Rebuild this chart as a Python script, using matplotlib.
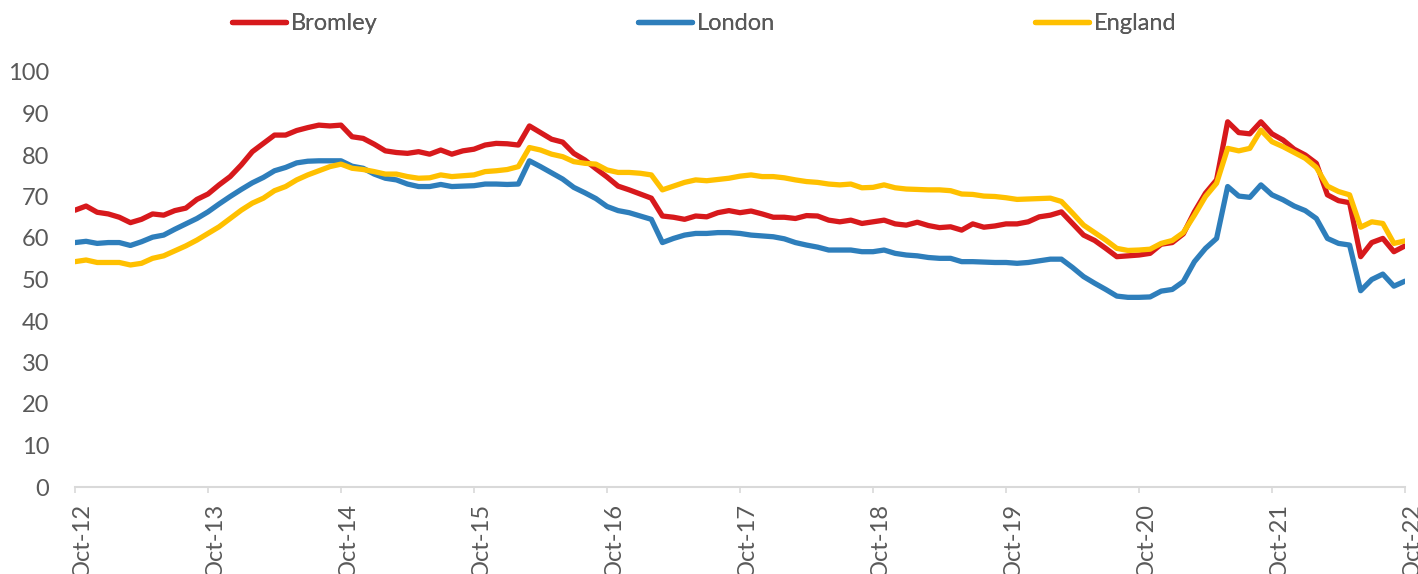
import matplotlib
matplotlib.use("Agg")
import matplotlib.pyplot as plt
from matplotlib.transforms import ScaledTranslation
import numpy as np

plt.rcParams['font.family'] = ['Lato', 'DejaVu Sans']

months = ["Oct-12", "Oct-13", "Oct-14", "Oct-15", "Oct-16", "Oct-17",
          "Oct-18", "Oct-19", "Oct-20", "Oct-21", "Oct-22"]

bromley = [66.7, 67.7, 66.2, 65.8, 65.0, 63.7, 64.5, 65.8, 65.5, 66.6,
           67.2, 69.3, 70.6, 72.8, 74.8, 77.6, 80.8, 82.8, 84.8, 84.8,
           85.9, 86.6, 87.2, 87.0, 87.2, 84.4, 84.0, 82.6, 81.0, 80.6,
           80.4, 80.8, 80.2, 81.2, 80.2, 81.0, 81.4, 82.4, 82.8, 82.7,
           82.4, 87.0, 85.4, 83.8, 83.1, 80.4, 78.8, 76.7, 74.7, 72.5,
           71.6, 70.6, 69.6, 65.3, 65.0, 64.5, 65.3, 65.1, 66.1, 66.6,
           66.1, 66.5, 65.8, 65.0, 65.0, 64.7, 65.4, 65.3, 64.3, 63.9,
           64.3, 63.5, 63.9, 64.3, 63.4, 63.1, 63.8, 63.0, 62.5, 62.7,
           61.9, 63.4, 62.6, 62.9, 63.4, 63.4, 63.9, 65.1, 65.5, 66.3,
           63.5, 60.7, 59.4, 57.5, 55.5, 55.7, 55.9, 56.3, 58.5, 58.9,
           61.0, 66.3, 70.8, 74.0, 88.0, 85.4, 85.1, 88.0, 85.1, 83.6,
           81.4, 80.0, 78.0, 70.4, 69.0, 68.5, 55.5, 58.9, 59.9, 56.7,
           58.1]

london = [58.9, 59.2, 58.7, 58.9, 58.9, 58.2, 59.1, 60.2, 60.7, 62.1,
          63.4, 64.7, 66.3, 68.2, 70.0, 71.7, 73.3, 74.6, 76.2, 77.0,
          78.1, 78.5, 78.6, 78.6, 78.6, 77.3, 76.8, 75.4, 74.4, 74.0,
          73.0, 72.4, 72.4, 72.9, 72.4, 72.5, 72.6, 73.0, 73.0, 72.9,
          73.0, 78.6, 77.2, 75.7, 74.2, 72.2, 70.9, 69.5, 67.6, 66.6,
          66.1, 65.3, 64.5, 58.9, 59.9, 60.7, 61.1, 61.1, 61.3, 61.3,
          61.1, 60.7, 60.5, 60.3, 59.8, 58.9, 58.3, 57.8, 57.1, 57.1,
          57.1, 56.7, 56.7, 57.1, 56.3, 55.9, 55.7, 55.3, 55.1, 55.1,
          54.3, 54.3, 54.2, 54.1, 54.1, 53.9, 54.1, 54.5, 54.9, 54.9,
          52.9, 50.7, 49.1, 47.6, 46.0, 45.7, 45.7, 45.8, 47.2, 47.6,
          49.5, 54.3, 57.5, 59.9, 72.4, 70.1, 69.8, 72.8, 70.4, 69.2,
          67.7, 66.6, 64.7, 59.9, 58.7, 58.3, 47.3, 50.0, 51.3, 48.4,
          49.6]

england = [54.3, 54.7, 54.1, 54.1, 54.1, 53.5, 53.9, 55.1, 55.7, 56.9,
           58.1, 59.5, 61.1, 62.7, 64.7, 66.7, 68.4, 69.6, 71.4, 72.4,
           74.0, 75.2, 76.2, 77.2, 77.8, 76.8, 76.5, 76.0, 75.4, 75.4,
           74.8, 74.4, 74.5, 75.2, 74.8, 75.0, 75.2, 76.0, 76.2, 76.5,
           77.2, 81.8, 81.2, 80.2, 79.6, 78.4, 78.0, 77.8, 76.4, 75.8,
           75.8, 75.6, 75.2, 71.6, 72.5, 73.4, 74.0, 73.8, 74.1, 74.4,
           74.9, 75.2, 74.8, 74.8, 74.5, 74.0, 73.6, 73.4, 73.0, 72.8,
           73.0, 72.1, 72.2, 72.8, 72.1, 71.8, 71.7, 71.6, 71.6, 71.4,
           70.6, 70.5, 70.1, 70.0, 69.7, 69.3, 69.4, 69.5, 69.6, 68.8,
           66.0, 63.1, 61.3, 59.5, 57.5, 57.0, 57.1, 57.3, 58.7, 59.4,
           61.3, 65.5, 70.0, 73.2, 81.6, 81.0, 81.6, 86.0, 83.2, 82.0,
           80.6, 79.2, 77.0, 72.5, 71.2, 70.4, 62.6, 63.9, 63.5, 58.7,
           59.3]

series = [("Bromley", bromley, "#D7191C"),
          ("London", london, "#2E7EBB"),
          ("England", england, "#FFC000")]
legend_x = [232, 638, 1035]   # pixel position of each legend handle

W, H = 1418, 574
fig = plt.figure(figsize=(W / 100, H / 100), dpi=100)
ax = fig.add_axes([75 / W, 1 - 487 / H, (1405 - 75) / W, (487 - 72) / H])

x = np.arange(len(bromley))
handles = []
for name, vals, col in series:
    h, = ax.plot(x, vals, color=col, lw=3.8, label=name,
                 solid_joinstyle='round', solid_capstyle='round')
    handles.append(h)

ax.set_xlim(0, len(bromley) - 1)
ax.set_ylim(0, 100)
ax.set_yticks(np.arange(0, 101, 10))
ax.set_xticks(np.arange(0, len(bromley), 12))
ax.set_xticklabels(months, rotation=90)

txt = "#595959"
ax.tick_params(axis='y', length=0, pad=18.5, labelsize=17, labelcolor=txt)
ax.tick_params(axis='x', length=4.5, width=1.2, color="#D9D9D9", pad=7,
               labelsize=17, labelcolor=txt)
off = ScaledTranslation(0.07, 0, fig.dpi_scale_trans)
for lab in ax.get_xticklabels():
    lab.set_transform(lab.get_transform() + off)
for s in ["top", "right", "left"]:
    ax.spines[s].set_visible(False)
ax.spines["bottom"].set_color("#D9D9D9")
ax.spines["bottom"].set_linewidth(1.5)
ax.spines["bottom"].set_zorder(0)

for h, lx in zip(handles, legend_x):
    leg = fig.legend(handles=[h], loc='center left',
                     bbox_to_anchor=(lx / W, 1 - 24 / H), frameon=False,
                     fontsize=17, labelcolor=txt, handlelength=2.3,
                     handletextpad=0.2, borderpad=0, borderaxespad=0)
    fig.add_artist(leg)

fig.savefig("out.png", dpi=100)
